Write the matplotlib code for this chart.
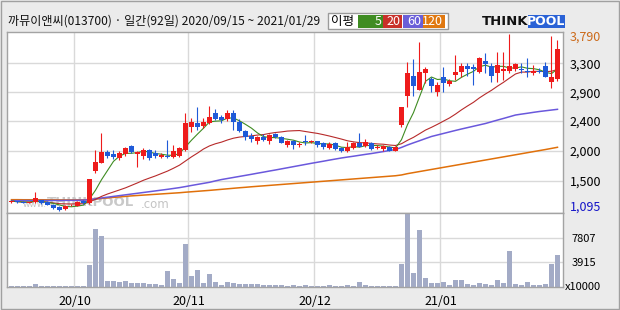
import matplotlib
matplotlib.use('Agg')
import matplotlib.pyplot as plt
import numpy as np
import pandas as pd
from matplotlib.patches import Rectangle

plt.rcParams['font.family'] = ['Noto Sans CJK KR', 'DejaVu Sans']

# ---------------- data ----------------
title = '까뮤이앤씨(013700) · 일간(92일) 2020/09/15 ~ 2021/01/29'

opens = [1225, 1240, 1235, 1220, 1226, 1258, 1232, 1182, 1156, 1116,
         1175, 1167, 1248, 1208, 1705, 1827, 1995, 1955, 1904, 1955,
         2082, 1955, 1934, 2021, 1980, 1919, 1934, 1919, 1934, 2021,
         2376, 2428, 2391, 2437, 2590, 2528, 2489, 2580, 2452, 2310,
         2239, 2163, 2224, 2163, 2260, 2224, 2097, 2158, 2102, 2158,
         2147, 2158, 2122, 2046, 2122, 2046, 2005, 2056, 2132, 2082,
         2122, 2046, 2041, 2071, 2010, 2402, 2849, 3149, 2936, 3190,
         3104, 2901, 3129, 3027, 3164, 3206, 3302, 3291, 3215, 3378,
         3302, 3200, 3230, 3230, 3251, 3251, 3215, 3190, 3230, 3302,
         3062, 3104]
highs = [1245, 1245, 1240, 1230, 1376, 1265, 1240, 1190, 1160, 1180,
         1195, 1240, 1255, 1580, 2021, 2280, 2021, 2021, 2010, 2071,
         2097, 2005, 2047, 2031, 2021, 1975, 2173, 2097, 2071, 2590,
         2504, 2681, 2504, 2696, 2646, 2554, 2631, 2631, 2493, 2326,
         2275, 2239, 2260, 2265, 2285, 2234, 2173, 2173, 2147, 2249,
         2173, 2163, 2138, 2138, 2138, 2061, 2147, 2147, 2275, 2183,
         2138, 2097, 2097, 2082, 2086, 2681, 3358, 3408, 3663, 3282,
         3138, 3053, 3282, 3104, 3469, 3343, 3343, 3328, 3434, 3495,
         3343, 3520, 3520, 3790, 3343, 3343, 3419, 3317, 3267, 3367,
         3759, 3698]
lows = [1220, 1220, 1210, 1210, 1220, 1200, 1175, 1125, 1095, 1110,
        1170, 1160, 1200, 1200, 1675, 1820, 1898, 1880, 1868, 1924,
        1980, 1757, 1879, 1868, 1894, 1898, 1898, 1894, 1919, 2005,
        2300, 2326, 2351, 2417, 2478, 2437, 2463, 2326, 2300, 2173,
        2147, 2112, 2158, 2112, 2199, 2122, 2071, 2036, 2071, 2097,
        2122, 2071, 2036, 2031, 2021, 1995, 1995, 2031, 2066, 2071,
        2021, 2031, 2010, 2005, 2000, 2376, 2672, 2849, 2936, 3038,
        2901, 2849, 2901, 3001, 3088, 3138, 3154, 3012, 3200, 3200,
        3062, 3062, 3088, 3190, 3230, 3200, 3129, 3164, 3190, 3138,
        2961, 3078]
closes = [1240, 1225, 1215, 1225, 1284, 1208, 1182, 1132, 1106, 1171,
          1185, 1232, 1208, 1578, 1833, 1985, 1934, 1909, 1970, 2047,
          1995, 1985, 2021, 1899, 1934, 1944, 1910, 2005, 2047, 2437,
          2452, 2376, 2452, 2528, 2494, 2478, 2590, 2452, 2315, 2224,
          2188, 2224, 2173, 2249, 2214, 2132, 2158, 2097, 2112, 2140,
          2158, 2097, 2061, 2112, 2036, 2010, 2071, 2132, 2071, 2147,
          2036, 2056, 2082, 2010, 2071, 2672, 3199, 3001, 3210, 3256,
          3001, 3012, 3038, 3078, 3210, 3306, 3251, 3256, 3428, 3332,
          3149, 3317, 3256, 3302, 3328, 3241, 3206, 3230, 3215, 3138,
          3138, 3561]
# volume in units of 10,000 shares
volumes = [160, 160, 160, 160, 430, 160, 160, 160, 160, 160,
           160, 160, 160, 3480, 9270, 8150, 910, 910, 800, 910,
           540, 640, 640, 380, 380, 270, 2520, 1230, 640, 6860,
           1720, 2680, 590, 2040, 800, 270, 750, 590, 480, 480,
           480, 430, 320, 320, 320, 320, 160, 270, 160, 270,
           160, 160, 160, 270, 160, 160, 270, 160, 750, 320,
           160, 160, 160, 160, 160, 3650, 13000, 2200, 9000, 1450,
           640, 640, 800, 320, 1070, 1070, 430, 320, 540, 480,
           320, 1070, 640, 5740, 480, 320, 750, 320, 270, 480,
           3650, 5090]
# 60- and 120-day moving averages (need history before window)
ma60 = [1248, 1248, 1249, 1249, 1250, 1250, 1250, 1251, 1251, 1252,
        1253, 1254, 1256, 1264, 1276, 1289, 1301, 1313, 1325, 1337,
        1349, 1361, 1373, 1385, 1397, 1409, 1421, 1434, 1447, 1463,
        1480, 1496, 1512, 1528, 1550, 1570, 1586, 1602, 1618, 1634,
        1650, 1667, 1683, 1700, 1716, 1733, 1750, 1767, 1784, 1801,
        1818, 1834, 1850, 1867, 1883, 1899, 1913, 1926, 1940, 1954,
        1967, 1982, 1997, 2013, 2028, 2060, 2097, 2130, 2162, 2195,
        2227, 2250, 2273, 2296, 2319, 2341, 2362, 2383, 2404, 2425,
        2451, 2477, 2502, 2528, 2554, 2568, 2581, 2595, 2608, 2619,
        2630, 2641]
ma120 = [1263, 1263, 1262, 1262, 1262, 1262, 1261, 1261, 1260, 1260,
         1260, 1261, 1261, 1265, 1272, 1281, 1290, 1298, 1305, 1313,
         1321, 1327, 1333, 1339, 1345, 1351, 1357, 1363, 1369, 1377,
         1384, 1391, 1398, 1405, 1413, 1421, 1429, 1437, 1445, 1452,
         1460, 1467, 1474, 1481, 1488, 1495, 1502, 1509, 1516, 1523,
         1530, 1537, 1544, 1551, 1558, 1565, 1572, 1579, 1586, 1593,
         1600, 1607, 1614, 1621, 1628, 1640, 1660, 1676, 1692, 1708,
         1724, 1740, 1756, 1772, 1788, 1804, 1820, 1836, 1852, 1868,
         1884, 1900, 1916, 1932, 1948, 1964, 1980, 1996, 2012, 2028,
         2045, 2062]

month_starts = [11, 30, 51, 72]
month_labels = ['20/10', '20/11', '20/12', '21/01']
price_grid = [1552, 2005, 2463, 2901, 3343]
price_grid_labels = ['1,500', '2,000', '2,400', '2,900', '3,300']
price_max_label = '3,790'
price_min_label = '1,095'
vol_grid = [3915, 7807]
vol_grid_labels = ['3915', '7807']
vol_unit = 'x10000'
ma_labels = ['5', '20', '60', '120']

# ---------------- style ----------------
RED = '#ee1b1b'
BLUE = '#1f5ad8'
C5, C20, C60, C120 = '#3f8c22', '#b72a2a', '#6a58dc', '#e0700a'
GRID = '#d9d9d9'
FRAME = '#a3a3a3'
BG = '#ebebeb'

W, H = 620, 310
fig = plt.figure(figsize=(W / 100, H / 100), dpi=100)
fig.patch.set_facecolor(BG)


def fbox(x0, y0, x1, y1):
    return [x0 / W, 1 - y1 / H, (x1 - x0) / W, (y1 - y0) / H]


ax = fig.add_axes(fbox(7, 31.7, 563, 212.7))
axv = fig.add_axes(fbox(7, 212.7, 563, 286.7), sharex=ax)

o = np.array(opens, float)
c = np.array(closes, float)
hi = np.array(highs, float)
lo = np.array(lows, float)
x = np.arange(len(c))
up = c >= o
col = np.where(up, RED, BLUE)

# moving averages
s = pd.Series(c)
ma5 = s.rolling(5, min_periods=1).mean()
ma20 = s.rolling(20, min_periods=1).mean()
ax.plot(x, ma120, color=C120, lw=1.1, zorder=2)
ax.plot(x, ma60, color=C60, lw=1.1, zorder=2)
ax.plot(x, ma20, color=C20, lw=0.8, zorder=2)
ax.plot(x, ma5, color=C5, lw=0.8, zorder=2)

# candles
ax.vlines(x, lo, hi, colors=col, lw=0.8, zorder=3)
bottoms = np.minimum(o, c)
heights = np.maximum(np.abs(c - o), 14)
ax.bar(x, heights, width=0.78, bottom=bottoms, color=col, lw=0, zorder=4)

ax.set_xlim(-0.75, 91.92)
ax.set_ylim(1064.5, 3824.75)
ax.set_facecolor('white')

ax.set_yticks(price_grid)
ax.set_yticklabels(price_grid_labels)
ax.yaxis.tick_right()
ax.tick_params(axis='y', length=0, pad=5, labelsize=9)
ax.set_xticks([m - 0.5 for m in month_starts])
ax.tick_params(axis='x', length=0, labelbottom=False)
ax.grid(True, color=GRID, lw=1, zorder=0)
ax.set_axisbelow(True)
for sp in ax.spines.values():
    sp.set_color(FRAME)
    sp.set_linewidth(1)

ax.text(1.0126, 0.969, price_max_label, transform=ax.transAxes, color='#cc6a1a',
        fontsize=9, va='center', ha='left')
ax.text(1.0126, 0.033, price_min_label, transform=ax.transAxes, color='#1414c8',
        fontsize=9, va='center', ha='left')

# watermark
ax.text(0.029, 0.043, 'www.', transform=ax.transAxes, color='#c4c4c4', fontsize=6.5,
        va='center', ha='left', zorder=1, family='DejaVu Sans')
ax.text(0.072, 0.058, 'THINKPOOL', transform=ax.transAxes, color='#c9c9c9', fontsize=9.5,
        fontweight='bold', va='center', ha='left', zorder=1, family='DejaVu Sans')
ax.text(0.240, 0.043, '.com', transform=ax.transAxes, color='#c4c4c4', fontsize=8.5,
        va='center', ha='left', zorder=1, family='DejaVu Sans')

# volume
axv.bar(x, volumes, width=0.78, color='#a3abc6', lw=0, zorder=2)
axv.set_ylim(0, 11810)
axv.set_facecolor('white')
axv.set_yticks(vol_grid)
axv.set_yticklabels(vol_grid_labels)
axv.yaxis.tick_right()
axv.tick_params(axis='y', length=0, pad=6, labelsize=8)
axv.set_xticks([m - 0.5 for m in month_starts])
axv.set_xticklabels(month_labels)
axv.tick_params(axis='x', length=0, pad=6, labelsize=9)
axv.grid(True, color=GRID, lw=1, zorder=0)
axv.set_axisbelow(True)
for sp in axv.spines.values():
    sp.set_color(FRAME)
    sp.set_linewidth(1)
axv.text(1.004, 0.0, vol_unit, transform=axv.transAxes, fontsize=8,
         va='center', ha='left')

# overlay for header / frame
ov = fig.add_axes([0, 0, 1, 1])
ov.set_xlim(0, W)
ov.set_ylim(H, 0)
ov.axis('off')
ov.add_patch(Rectangle((1, 1), W - 2.5, H - 2.5, fill=False, ec='#a0a0a0', lw=1))
ov.text(8, 21, title, fontsize=8.7, va='center', ha='left', color='#111111')

# MA legend box
ov.add_patch(Rectangle((327.5, 13.3), 120.5, 16, fc='white', ec='#9a9a9a', lw=1))
ov.text(331, 21.3, '이평', fontsize=9, va='center', ha='left', color='black')
boxes = [(358.3, 382.7, C5), (382.7, 402.3, '#c8302a'), (402.7, 423.0, '#6a5fd8'), (423.3, 444.5, '#e07810')]
for (bx0, bx1, bc), lab in zip(boxes, ma_labels):
    ov.add_patch(Rectangle((bx0, 14.7), bx1 - bx0, 13.3, fc=bc, ec='none'))
    ov.text(bx1 - 1.5, 21.5, lab, fontsize=9, va='center', ha='right', color='white')

# THINKPOOL logo
ov.text(481.5, 21.5, 'THINK', fontsize=9.5, fontweight='bold', va='center', ha='left',
        color='#111111', family='DejaVu Sans')
ov.add_patch(Rectangle((528, 15), 37, 12.5, fc='#2a62d6', ec='none'))
ov.text(546.5, 21.5, 'POOL', fontsize=9, fontweight='bold', va='center', ha='center',
        color='white', family='DejaVu Sans')

fig.savefig('out.png', dpi=100, facecolor=fig.get_facecolor())
